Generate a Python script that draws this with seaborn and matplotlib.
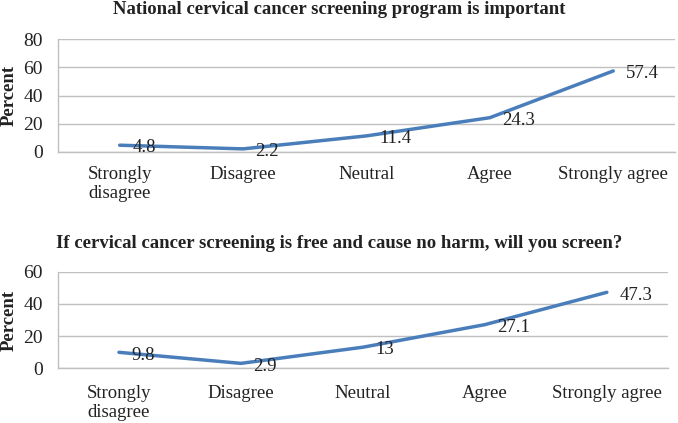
import numpy as np
import matplotlib
matplotlib.use("Agg")
import matplotlib.pyplot as plt
import pandas as pd
import seaborn as sns

categories = ["Strongly\ndisagree", "Disagree", "Neutral", "Agree", "Strongly agree"]
important = [4.8, 2.2, 11.4, 24.3, 57.4]
will_screen = [9.8, 2.9, 13, 27.1, 47.3]

title_top = "National cervical cancer screening program is important"
title_bottom = "If cervical cancer screening is free and cause no harm, will you screen?"

sns.set_style("white")
plt.rcParams['font.family'] = ['Liberation Serif', 'DejaVu Serif']

fig = plt.figure(figsize=(6.78, 4.23), dpi=100)
ax1 = fig.add_axes([0.0855, 0.6407, 0.91, 0.267])
ax2 = fig.add_axes([0.0855, 0.130, 0.8995, 0.227])

line_col = "#4a7ebb"
grid_col = "#c0c0c0"
txt_col = "#222222"


def draw(ax, vals, ymax, title_y, title, xpad):
    df = pd.DataFrame({"cat": categories, "val": vals})
    sns.lineplot(data=df, x="cat", y="val", ax=ax, sort=False,
                 color=line_col, linewidth=2.5)
    for i, v in enumerate(vals):
        ax.annotate("%g" % v, (i, v), xytext=(9, -2), textcoords="offset points",
                    ha="left", va="center", fontsize=13.5, color=txt_col)
    ax.set_xlim(-0.5, len(categories) - 0.5)
    ax.set_ylim(0, ymax)
    ax.set_yticks(np.arange(0, ymax + 1, 20))
    ax.yaxis.grid(True, color=grid_col, linewidth=1)
    ax.set_axisbelow(True)
    for s in ["top", "right"]:
        ax.spines[s].set_visible(False)
    for s in ["left", "bottom"]:
        ax.spines[s].set_color(grid_col)
        ax.spines[s].set_linewidth(1)
    ax.tick_params(axis="x", length=0, labelsize=13.5, colors=txt_col, pad=xpad)
    ax.tick_params(axis="y", length=0, labelsize=14, colors=txt_col, pad=11)
    ax.set_xlabel("")
    ax.set_ylabel("Percent", fontsize=13.5, fontweight="bold", labelpad=4,
                  color=txt_col)
    fig.text(0.5, title_y, title, ha="center", va="center",
             fontsize=13.5, fontweight="bold", color=txt_col)


draw(ax1, important, 80, 1 - 10 / 423, title_top, 10)
draw(ax2, will_screen, 60, 1 - 243 / 423, title_bottom, 12)

plt.savefig("out.png", dpi=100)
